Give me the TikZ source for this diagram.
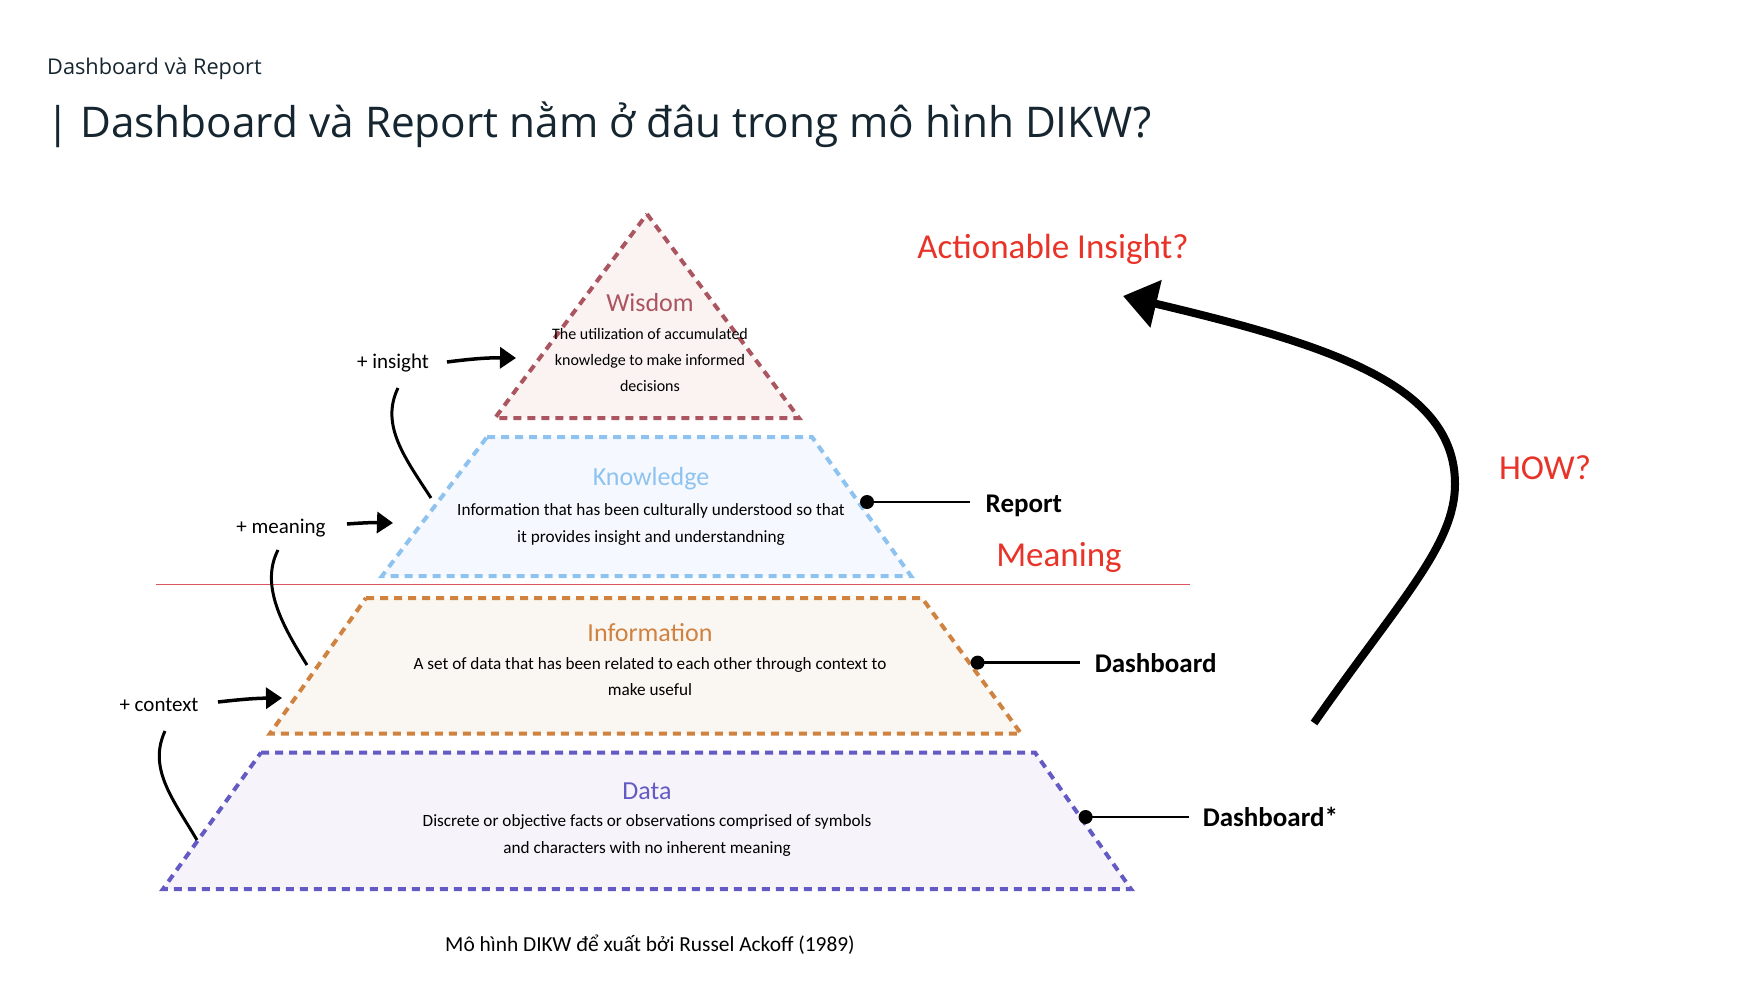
\documentclass[tikz,border=0pt]{standalone}
\usepackage{fontspec}
\setmainfont{Carlito}
\newfontfamily\titlefont{Open Sans}
\usetikzlibrary{arrows.meta}
\definecolor{titlecol}{RGB}{22,38,48}
\definecolor{wiscol}{RGB}{170,85,95}
\definecolor{wisfill}{RGB}{251,242,242}
\definecolor{knocol}{RGB}{142,195,240}
\definecolor{knofill}{RGB}{245,248,254}
\definecolor{infcol}{RGB}{208,130,65}
\definecolor{inffill}{RGB}{250,247,242}
\definecolor{datcol}{RGB}{100,90,195}
\definecolor{datfill}{RGB}{246,244,250}
\definecolor{hotred}{RGB}{232,52,40}
\definecolor{sepred}{RGB}{222,85,95}
\begin{document}
\begin{tikzpicture}[x=1pt,y=-1pt,
  layer/.style={line width=4pt,dash pattern=on 8pt off 6pt},
  ttl/.style={inner sep=0pt,font=\fontsize{26}{30}\selectfont},
  desc/.style={inner sep=0pt,align=center,font=\fontsize{17.2}{26.5}\selectfont},
  plus/.style={inner sep=0pt,font=\fontsize{21}{24}\selectfont},
  tag/.style={inner sep=0pt,anchor=west,font=\bfseries\fontsize{27}{30}\selectfont},
  hottext/.style={inner sep=0pt,text=hotred,font=\fontsize{35}{40}\selectfont},
  smallarrow/.style={line width=3.5pt,-{Triangle[length=16pt,width=21pt]}},
  bendline/.style={line width=3pt},
  dotline/.style={line width=2.5pt},
]
\useasboundingbox[fill=white] (0,0) rectangle (1764,982);

% header
\node[inner sep=0pt,anchor=west,text=titlecol,font=\titlefont\fontsize{21.7}{25}\selectfont] (hdr) at (47,68.5) {Dashboard và Report};
\node[inner sep=0pt,anchor=west,text=titlecol,font=\titlefont\fontsize{42.3}{50}\selectfont] (title) at (46,125) {| Dashboard và Report nằm ở đâu trong mô hình DIKW?};

% separator
\draw[sepred,line width=1pt] (156,584) -- (1190,584);

% layers
\draw[layer,draw=datcol,fill=datfill] (261,752.6) -- (1035,752.6) -- (1131,889) -- (163,889) -- cycle;
\draw[layer,draw=infcol,fill=inffill] (366,598) -- (922,598) -- (1021,733.5) -- (270,733.5) -- cycle;
\draw[layer,draw=knocol,fill=knofill] (487,437) -- (812,437) -- (911,576) -- (382,576) -- cycle;
\draw[layer,draw=wiscol,fill=wisfill] (647,214) -- (799,418) -- (495,418) -- cycle;

% layer texts
\node[ttl,text=wiscol] (wt) at (650,303) {Wisdom};
\node[desc,font=\fontsize{16}{26}\selectfont] (wd) at (650,360) {The utilization of accumulated\\knowledge to make informed\\decisions};
\node[ttl,text=knocol] (kt) at (651,479) {Knowledge};
\node[desc] (kd) at (651,524.5) {Information that has been culturally understood so that\\it provides insight and understandning};
\node[ttl,text=infcol] (it) at (650,633) {Information};
\node[desc] (id) at (650,676.5) {A set of data that has been related to each other through context to\\make useful};
\node[ttl,text=datcol] (dt) at (647,791) {Data};
\node[desc] (dd) at (647,835.5) {Discrete or objective facts or observations comprised of symbols\\and characters with no inherent meaning};

\node[inner sep=0pt,font=\fontsize{21.4}{24}\selectfont] (cap) at (650,945) {Mô hình DIKW để xuất bởi Russel Ackoff (1989)};

% left annotations
\node[plus] (pi) at (393,363) {+ insight};
\node[plus] (pm) at (281,527.6) {+ meaning};
\node[plus] (pc) at (159,705) {+ context};
\coordinate (pia) at (447,362); \coordinate (pib) at (516,358);
\coordinate (pma) at (347,524); \coordinate (pmb) at (393,523);
\coordinate (pca) at (218,702); \coordinate (pcb) at (282,698);
\draw[smallarrow] (pia) to[bend left=4] (pib);
\draw[smallarrow] (pma) to[bend left=3] (pmb);
\draw[smallarrow] (pca) to[bend left=3] (pcb);
\coordinate (ci1) at (398,388); \coordinate (ci2) at (431,498);
\coordinate (cm1) at (278,550); \coordinate (cm2) at (307,665);
\coordinate (cc1) at (165,731); \coordinate (cc2) at (197,840);
\draw[bendline] (ci1) .. controls (380,425) and (405,458) .. (ci2);
\draw[bendline] (cm1) .. controls (260,585) and (282,625) .. (cm2);
\draw[bendline] (cc1) .. controls (148,768) and (172,798) .. (cc2);

% right tags
\coordinate (r1) at (867,502); \coordinate (r2) at (970,502);
\node[tag] (rep) at (985.5,505.5) {Report};
\coordinate (d1) at (977.6,662.6); \coordinate (d2) at (1080,662.6);
\node[tag] (dash) at (1094.6,663.5) {Dashboard};
\coordinate (s1) at (1085.6,817); \coordinate (s2) at (1189,817);
\node[tag] (dashs) at (1202.6,817) {Dashboard*};
\draw[dotline] (r1) -- (r2); \fill (r1) circle (7pt);
\draw[dotline] (d1) -- (d2); \fill (d1) circle (7pt);
\draw[dotline] (s1) -- (s2); \fill (s1) circle (7pt);

\node[hottext] (mean) at (1059,557) {Meaning};
\node[hottext] (act) at (1053,249) {Actionable Insight?};
\node[hottext] (how) at (1545,468) {HOW?};

% big arrow
\coordinate (bs) at (1314,723);
\coordinate (bm) at (1455,484);
\coordinate (be) at (1123,296);
\draw[line width=8pt,-{Triangle[length=34pt,width=47pt]}] (bs) .. controls (1400,600) and (1455,545) .. (bm) .. controls (1455,385) and (1330,345) .. (be);
\end{tikzpicture}
\end{document}
